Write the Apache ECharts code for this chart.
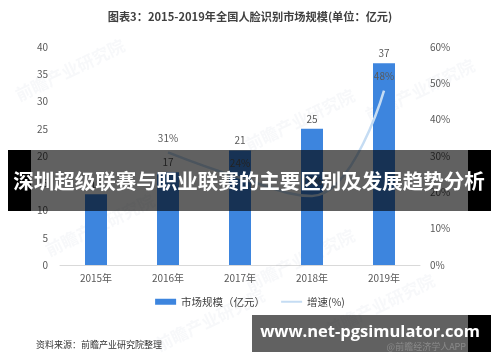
<!DOCTYPE html>
<html><head><meta charset="utf-8">
<script src="https://cdn.jsdelivr.net/npm/echarts@6/dist/echarts.min.js"></script>
<style>html,body{margin:0;padding:0;background:#fff}#c{width:500px;height:362px}</style>
</head><body><div id="c"></div>
<script>
var categories = ['2015年','2016年','2017年','2018年','2019年'];
var marketSize = [13, 17, 21, 25, 37];
var growthRate = ['-', 31, 24, 19, 48];
var leftTicks = [0, 5, 10, 15, 20, 25, 30, 35, 40];
var rightTicks = [0, 10, 20, 30, 40, 50, 60];
var titleText = '图表3：2015-2019年全国人脸识别市场规模(单位：亿元)';
var sourceText = '资料来源：前瞻产业研究院整理';
var bannerText = '深圳超级联赛与职业联赛的主要区别及发展趋势分析';
var urlText = 'www.net-pgsimulator.com';

var FONT = '"Noto Sans CJK SC", "Noto Sans", sans-serif';
var chart = echarts.init(document.getElementById('c'), null, {renderer: 'canvas'});

var wm = [];
[[70,70],[300,120],[100,225],[300,260],[420,90],[380,305],[210,320]].forEach(function(p){
  wm.push({type:'text', x:p[0], y:p[1], rotation: Math.PI/7, z: 1,
    style:{text:'前瞻产业研究院', fill:'rgba(120,140,170,0.06)', font:'bold 17px '+FONT, align:'center', verticalAlign:'middle'}});
});

chart.setOption({
  animation: false,
  textStyle: {fontFamily: FONT},
  title: {text: titleText, left: 'center', top: 6,
    textStyle: {fontSize: 11.2, fontWeight: 'bold', color: '#404040', fontFamily: FONT}},
  grid: {left: 60, right: 80, top: 47, bottom: 97},
  legend: {
    bottom: 50, left: 'center', itemGap: 16, itemWidth: 21, itemHeight: 6,
    textStyle: {fontSize: 10.5, color: '#404040', fontFamily: FONT},
    data: [{name: '市场规模（亿元）', icon: 'rect'},
           {name: '增速(%)', icon: 'path://M0,0 L21,0 L21,2 L0,2 Z', itemStyle: {color: '#c5dcf3', opacity: 1}}]
  },
  xAxis: {type: 'category', data: categories,
    axisLine: {lineStyle: {color: '#d9d9d9'}}, axisTick: {show: false},
    axisLabel: {color: '#595959', fontSize: 10, margin: 8}},
  yAxis: [
    {type: 'value', min: leftTicks[0], max: leftTicks[leftTicks.length-1], interval: 5,
      splitLine: {show: false}, axisLine: {show: false}, axisTick: {show: false},
      axisLabel: {color: '#595959', fontSize: 10, margin: 12}},
    {type: 'value', min: rightTicks[0], max: rightTicks[rightTicks.length-1], interval: 10,
      splitLine: {show: false}, axisLine: {show: false}, axisTick: {show: false},
      axisLabel: {color: '#595959', fontSize: 10, margin: 10, formatter: '{value}%'}}
  ],
  series: [
    {name: '市场规模（亿元）', type: 'bar', data: marketSize, barWidth: 22,
      itemStyle: {color: '#3d85de'},
      label: {show: true, position: 'top', distance: 5, color: '#595959', fontSize: 10}},
    {name: '增速(%)', type: 'line', yAxisIndex: 1, data: growthRate, smooth: 0.45,
      symbol: 'circle', symbolSize: 1, showSymbol: true,
      lineStyle: {color: '#c5dcf3', width: 2.5}, itemStyle: {color: 'rgba(197,220,243,0)'},
      label: {show: true, position: 'top', distance: 9, color: '#595959', fontSize: 10,
        textBorderWidth: 0, textBorderColor: 'transparent', formatter: '{c}%'}}
  ],
  graphic: wm.concat([
    {type: 'text', left: 36, top: 340, z: 50,
      style: {text: sourceText, fill: '#333', font: '9px ' + FONT}},
    {type: 'rect', z: 100, shape: {x: 8, y: 150, width: 23, height: 61}, style: {fill: '#000'}},
    {type: 'rect', z: 100, shape: {x: 468, y: 150, width: 23, height: 61}, style: {fill: '#000'}},
    {type: 'rect', z: 101, shape: {x: 31, y: 150, width: 437, height: 61}, style: {fill: 'rgba(0,0,0,0.62)'}},
    {type: 'text', z: 102, x: 249, y: 181,
      style: {text: bannerText, fill: '#fff', font: 'bold 20.5px ' + FONT, align: 'center', verticalAlign: 'middle'}},
    {type: 'rect', z: 100, shape: {x: 468, y: 315, width: 23, height: 37}, style: {fill: '#000'}},
    {type: 'rect', z: 101, shape: {x: 252, y: 315, width: 216, height: 37}, style: {fill: 'rgba(0,0,0,0.62)'}},
    {type: 'text', z: 102, x: 466, y: 347,
      style: {text: '@前瞻经济学人APP', fill: '#8a8a8a', font: '9px ' + FONT, align: 'right', verticalAlign: 'middle'}},
    {type: 'text', z: 103, x: 370, y: 332,
      style: {text: urlText, fill: '#fff', font: 'bold 16.5px "Open Sans", "Noto Sans", sans-serif', align: 'center', verticalAlign: 'middle'}}
  ])
});
</script></body></html>
